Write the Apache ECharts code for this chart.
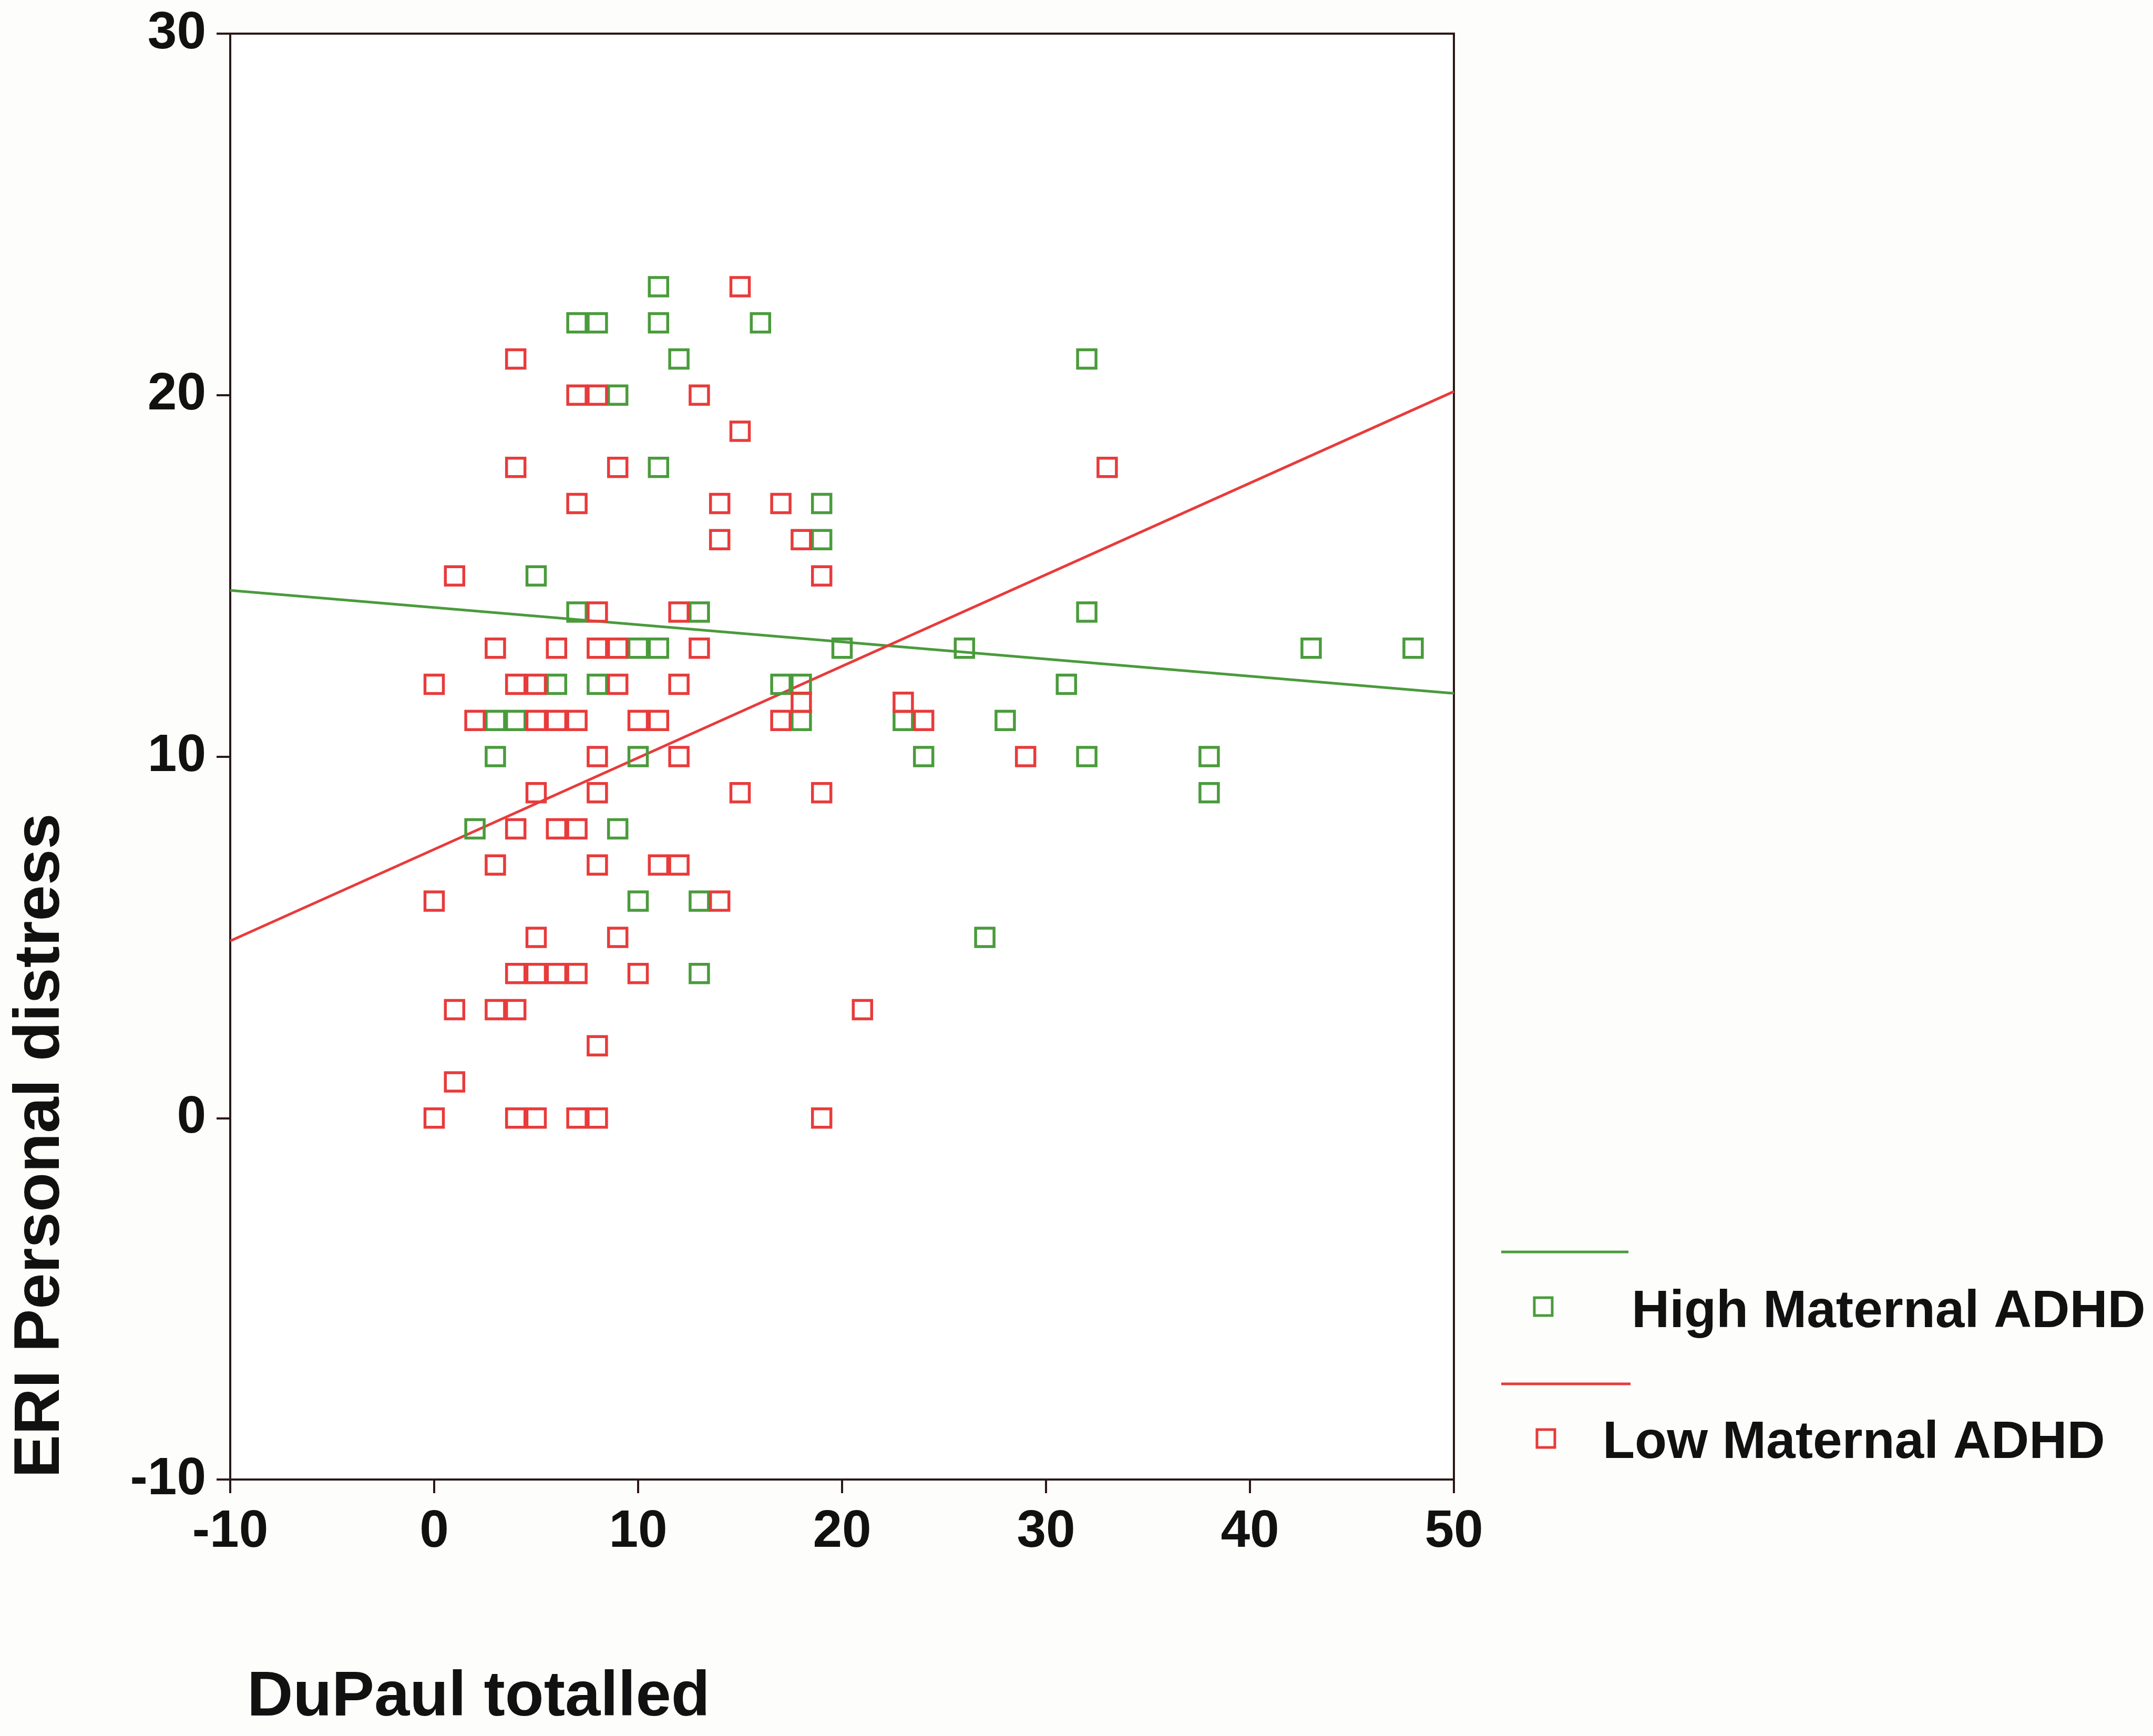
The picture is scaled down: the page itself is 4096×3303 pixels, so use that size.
<!DOCTYPE html>
<html>
<head>
<meta charset="utf-8">
<title>ERI Personal distress vs DuPaul totalled</title>
<script src="https://cdn.jsdelivr.net/npm/echarts@6/dist/echarts.min.js"></script>
<style>
  html, body { margin: 0; padding: 0; background: #fdfdfb; }
  #main { width: 4096px; height: 3303px; }
</style>
</head>
<body>
<div id="main"></div>
<script>
// [DuPaul totalled, ERI Personal distress]
var highPoints = [
    [11, 23], [7, 22], [8, 22], [11, 22], [16, 22], [12, 21], [32, 21], [9, 20],
    [11, 18], [19, 17], [19, 16], [5, 15], [7, 14], [13, 14], [32, 14],
    [10, 13], [11, 13], [20, 13], [26, 13], [43, 13], [48, 13],
    [6, 12], [8, 12], [17, 12], [18, 12], [31, 12],
    [3, 11], [4, 11], [18, 11], [23, 11], [28, 11],
    [3, 10], [10, 10], [24, 10], [32, 10], [38, 10], [38, 9],
    [2, 8], [9, 8], [10, 6], [13, 6], [27, 5], [13, 4]
];
var lowPoints = [
    [15, 23], [4, 21], [7, 20], [8, 20], [13, 20], [15, 19], [4, 18], [9, 18], [33, 18],
    [7, 17], [14, 17], [17, 17], [14, 16], [18, 16], [1, 15], [19, 15], [8, 14], [12, 14],
    [3, 13], [6, 13], [8, 13], [9, 13], [13, 13],
    [0, 12], [4, 12], [5, 12], [9, 12], [12, 12], [18, 11.5], [23, 11.5],
    [2, 11], [5, 11], [6, 11], [7, 11], [10, 11], [11, 11], [17, 11], [24, 11],
    [8, 10], [12, 10], [29, 10], [5, 9], [8, 9], [15, 9], [19, 9],
    [4, 8], [6, 8], [7, 8], [3, 7], [8, 7], [11, 7], [12, 7], [0, 6], [14, 6],
    [5, 5], [9, 5], [4, 4], [5, 4], [6, 4], [7, 4], [10, 4],
    [1, 3], [3, 3], [4, 3], [21, 3], [8, 2], [1, 1],
    [0, 0], [4, 0], [5, 0], [7, 0], [8, 0], [19, 0]
];
// fit lines, read at the ends of the x range
var fitX = [-10, 50];
var highFit = [14.6, 11.75];
var lowFit = [4.9, 20.1];

var groupNames = ['High Maternal ADHD', 'Low Maternal ADHD'];

var GREEN = '#4a9b3c';
var RED = '#e83b3b';
var INK = '#2a1818';
var FONT = "'Liberation Sans', Arial, sans-serif";

var myChart = echarts.init(document.getElementById('main'));

function fitLine(ys) {
    return fitX.map(function (x, i) { return [x, ys[i]]; });
}

var option = {
    backgroundColor: '#fdfdfb',
    animation: false,
    grid: {
        left: 438, top: 64, width: 2328, height: 2751,
        show: true,
        backgroundColor: '#ffffff',
        borderColor: INK,
        borderWidth: 4
    },
    xAxis: {
        type: 'value',
        min: -10, max: 50, interval: 10,
        axisLine: { show: true, onZero: false, lineStyle: { color: INK, width: 4 } },
        axisTick: { show: true, length: 26, lineStyle: { color: INK, width: 4 } },
        axisLabel: { margin: 50, color: '#111', fontFamily: FONT, fontWeight: 'bold', fontSize: 100 },
        splitLine: { show: false }
    },
    yAxis: {
        type: 'value',
        min: -10, max: 30, interval: 10,
        axisLine: { show: true, onZero: false, lineStyle: { color: INK, width: 4 } },
        axisTick: { show: true, length: 26, lineStyle: { color: INK, width: 4 } },
        axisLabel: { margin: 46, color: '#111', fontFamily: FONT, fontWeight: 'bold', fontSize: 100 },
        splitLine: { show: false }
    },
    series: [
        {
            name: 'High fit', type: 'line', data: fitLine(highFit),
            symbol: 'none', lineStyle: { color: GREEN, width: 5 }, z: 2
        },
        {
            name: 'Low fit', type: 'line', data: fitLine(lowFit),
            symbol: 'none', lineStyle: { color: RED, width: 5 }, z: 2
        },
        {
            name: groupNames[0], type: 'scatter', data: highPoints,
            symbol: 'rect', symbolSize: 35,
            itemStyle: { color: 'rgba(0,0,0,0)', borderColor: GREEN, borderWidth: 5.5, opacity: 1 },
            z: 3
        },
        {
            name: groupNames[1], type: 'scatter', data: lowPoints,
            symbol: 'rect', symbolSize: 35,
            itemStyle: { color: 'rgba(0,0,0,0)', borderColor: RED, borderWidth: 5.5, opacity: 1 },
            z: 3
        }
    ],
    graphic: [
        // axis titles
        {
            type: 'text', x: 470, y: 3231,
            style: { text: 'DuPaul totalled', fill: '#111', font: 'bold 121px ' + FONT,
                     align: 'left', verticalAlign: 'middle' }
        },
        {
            type: 'text', x: 78, y: 2812, rotation: Math.PI / 2,
            style: { text: 'ERI Personal distress', fill: '#111', font: 'bold 123px ' + FONT,
                     align: 'left', verticalAlign: 'middle' }
        },
        // legend: fit line on one row, marker + label on the next
        {
            type: 'line', shape: { x1: 2856, y1: 2382, x2: 3098, y2: 2382 },
            style: { stroke: GREEN, lineWidth: 5 }
        },
        {
            type: 'rect', shape: { x: 2919, y: 2469, width: 34, height: 34 },
            style: { fill: 'none', stroke: GREEN, lineWidth: 5 }
        },
        {
            type: 'text', x: 3104, y: 2497,
            style: { text: groupNames[0], fill: '#111', font: 'bold 100px ' + FONT,
                     align: 'left', verticalAlign: 'middle' }
        },
        {
            type: 'line', shape: { x1: 2856, y1: 2633, x2: 3102, y2: 2633 },
            style: { stroke: RED, lineWidth: 5 }
        },
        {
            type: 'rect', shape: { x: 2924, y: 2720, width: 34, height: 34 },
            style: { fill: 'none', stroke: RED, lineWidth: 5 }
        },
        {
            type: 'text', x: 3049, y: 2746,
            style: { text: groupNames[1], fill: '#111', font: 'bold 100px ' + FONT,
                     align: 'left', verticalAlign: 'middle' }
        }
    ]
};

myChart.setOption(option);
</script>
</body>
</html>
